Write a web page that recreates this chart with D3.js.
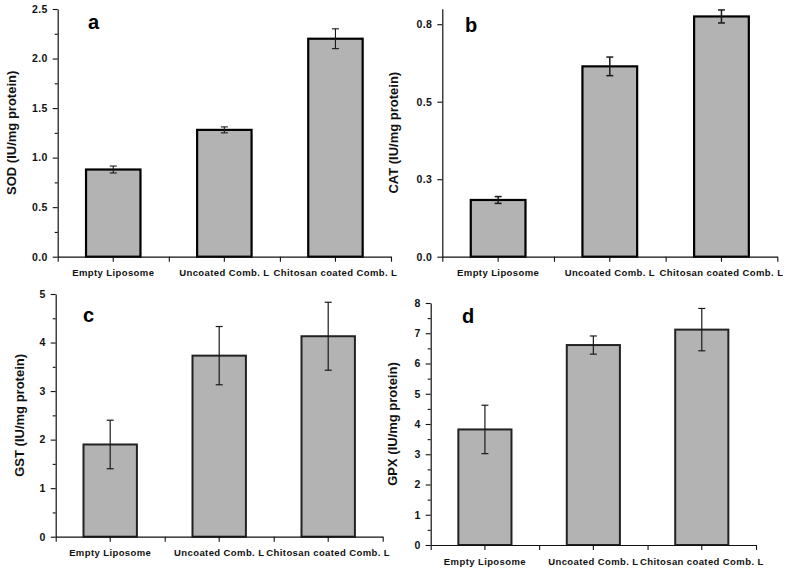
<!DOCTYPE html>
<html>
<head>
<meta charset="utf-8">
<script src="https://cdn.jsdelivr.net/npm/d3@7"></script>
<style>
  html, body { margin: 0; padding: 0; background: #fff; }
  svg { display: block; font-family: "Liberation Sans", Arial, sans-serif; }
</style>
</head>
<body>
<svg id="chart" width="800" height="568"></svg>
<script>
// ---------- data ----------
const categories = ["Empty Liposome", "Uncoated Comb. L", "Chitosan coated Comb. L"];

const sodValues = [0.88, 1.28, 2.20];
const sodErrors = [0.035, 0.03, 0.10];
const catValues = [0.183, 0.614, 0.775];
const catErrors = [0.011, 0.030, 0.021];
const gstValues = [1.90, 3.73, 4.13];
const gstErrors = [0.50, 0.60, 0.70];
const gpxValues = [3.82, 6.61, 7.12];
const gpxErrors = [0.80, 0.30, 0.70];

const sodTicks = [0, 0.5, 1.0, 1.5, 2.0, 2.5];
const sodTickLabels = ["0.0", "0.5", "1.0", "1.5", "2.0", "2.5"];
const sodMinor = [0.25, 0.75, 1.25, 1.75, 2.25];
const catTicks = [0, 0.25, 0.5, 0.75];
const catTickLabels = ["0.0", "0.3", "0.5", "0.8"];
const catMinor = [];
const gstTicks = [0, 1, 2, 3, 4, 5];
const gstTickLabels = ["0", "1", "2", "3", "4", "5"];
const gstMinor = [0.5, 1.5, 2.5, 3.5, 4.5];
const gpxTicks = [0, 1, 2, 3, 4, 5, 6, 7, 8];
const gpxTickLabels = ["0", "1", "2", "3", "4", "5", "6", "7", "8"];
const gpxMinor = [0.5, 1.5, 2.5, 3.5, 4.5, 5.5, 6.5, 7.5];

// ---------- layout ----------
const panels = [
  { letter: "a", title: "SOD (IU/mg protein)", values: sodValues, errors: sodErrors,
    ticks: sodTicks, labels: sodTickLabels, minor: sodMinor, max: 2.5,
    x0: 57.7, x1: 391, yB: 256.7, yT: 9, titleX: 11, letterX: 88, letterY: 29,
    stroke: "#000", sw: 2.2, errW: 1.1 },
  { letter: "b", title: "CAT (IU/mg protein)", values: catValues, errors: catErrors,
    ticks: catTicks, labels: catTickLabels, minor: catMinor, max: 0.8,
    x0: 442.3, x1: 777.3, yB: 256.7, yT: 8.7, titleX: 393, letterX: 465, letterY: 32,
    stroke: "#000", sw: 2.2, errW: 1.5 },
  { letter: "c", title: "GST (IU/mg protein)", values: gstValues, errors: gstErrors,
    ticks: gstTicks, labels: gstTickLabels, minor: gstMinor, max: 5,
    x0: 55.7, x1: 382.7, yB: 536.7, yT: 294, titleX: 19, letterX: 83, letterY: 322,
    stroke: "#222", sw: 2, errW: 1.2 },
  { letter: "d", title: "GPX (IU/mg protein)", values: gpxValues, errors: gpxErrors,
    ticks: gpxTicks, labels: gpxTickLabels, minor: gpxMinor, max: 8,
    x0: 430.7, x1: 756, yB: 545, yT: 303, titleX: 392, letterX: 462, letterY: 323,
    stroke: "#222", sw: 2, errW: 1.2 }
];

const svg = d3.select("#chart");

panels.forEach(p => {
  const g = svg.append("g");
  const x = d3.scaleBand().domain(categories).range([p.x0, p.x1]).padding(0);
  const xEdge = d3.scaleLinear().domain([0, categories.length]).range([p.x0, p.x1]);
  const y = d3.scaleLinear().domain([0, p.max]).range([p.yB, p.yT]);
  const bw = x.bandwidth() * 0.49;

  // bars
  g.selectAll("rect.bar").data(p.values).enter().append("rect")
    .attr("class", "bar")
    .attr("x", (d, i) => x(categories[i]) + x.bandwidth() / 2 - bw / 2)
    .attr("width", bw)
    .attr("y", d => y(d))
    .attr("height", d => y(0) - y(d))
    .attr("fill", "#b3b3b3")
    .attr("stroke", p.stroke)
    .attr("stroke-width", p.sw);

  // error bars
  const eg = g.append("g").attr("stroke", "#1a1a1a").attr("stroke-width", p.errW);
  p.values.forEach((v, i) => {
    const cx = x(categories[i]) + x.bandwidth() / 2;
    const e = p.errors[i];
    eg.append("line").attr("x1", cx).attr("x2", cx).attr("y1", y(v + e)).attr("y2", y(v - e));
    eg.append("line").attr("x1", cx - 3.5).attr("x2", cx + 3.5).attr("y1", y(v + e)).attr("y2", y(v + e));
    eg.append("line").attr("x1", cx - 3.5).attr("x2", cx + 3.5).attr("y1", y(v - e)).attr("y2", y(v - e));
  });

  // x axis with category labels
  const xa = g.append("g").attr("transform", `translate(0,${p.yB})`)
    .call(d3.axisBottom(x).tickSize(5).tickPadding(8).tickSizeOuter(0));
  xa.selectAll("text")
    .attr("font-family", "Liberation Sans, Arial, sans-serif")
    .attr("font-size", "9.5px").attr("font-weight", "bold")
    .attr("letter-spacing", "0.4px").attr("fill", "#111");
  // boundary ticks
  g.append("g").attr("transform", `translate(0,${p.yB})`)
    .call(d3.axisBottom(xEdge).tickValues(d3.range(categories.length + 1)).tickFormat("").tickSize(5).tickSizeOuter(0))
    .select(".domain").remove();

  // y axis
  const ya = g.append("g").attr("transform", `translate(${p.x0},0)`)
    .call(d3.axisLeft(y).tickValues(p.ticks).tickFormat((d, i) => p.labels[i]).tickSize(5).tickPadding(5).tickSizeOuter(0));
  ya.selectAll("text")
    .attr("font-family", "Liberation Sans, Arial, sans-serif")
    .attr("font-size", "10.5px").attr("font-weight", "bold")
    .attr("letter-spacing", "0.4px").attr("fill", "#111");
  if (p.minor.length) {
    g.append("g").attr("transform", `translate(${p.x0},0)`)
      .call(d3.axisLeft(y).tickValues(p.minor).tickFormat("").tickSize(3).tickSizeOuter(0))
      .select(".domain").remove();
  }
  g.selectAll(".domain").attr("stroke", "#111").attr("stroke-width", 1.2);
  g.selectAll(".tick line").attr("stroke", "#111").attr("stroke-width", 1.1);

  // y title
  const cy = (p.yB + p.yT) / 2;
  g.append("text")
    .attr("transform", `translate(${p.titleX + 4.5},${cy}) rotate(-90)`)
    .attr("text-anchor", "middle")
    .attr("font-size", "13px").attr("font-weight", "bold").attr("fill", "#111")
    .text(p.title);

  // panel letter
  g.append("text")
    .attr("x", p.letterX).attr("y", p.letterY)
    .attr("font-size", "20px").attr("font-weight", "bold").attr("fill", "#000")
    .text(p.letter);
});
</script>
</body>
</html>
